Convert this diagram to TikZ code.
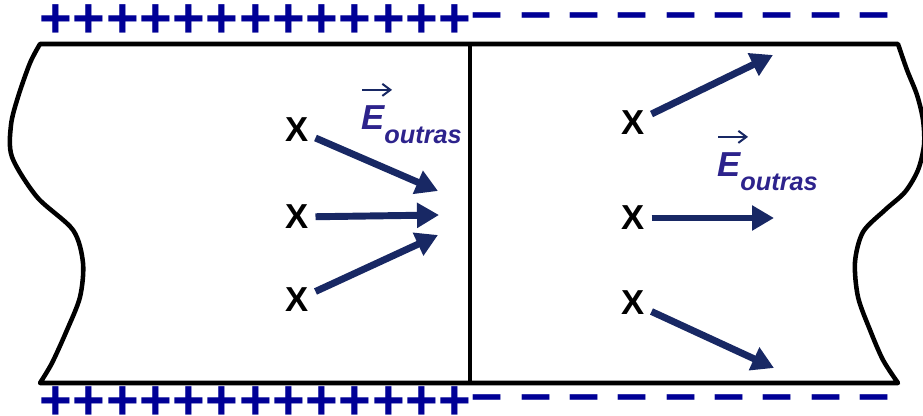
\documentclass[tikz,border=0pt]{standalone}
\usepackage{fontspec}
\setmainfont{Liberation Sans}
\usetikzlibrary{calc,arrows.meta,positioning}
\definecolor{fieldblue}{RGB}{24,40,100}
\definecolor{chargeblue}{RGB}{0,0,150}
\definecolor{labelblue}{RGB}{45,35,140}
\tikzset{
  wall/.style={line width=3.4pt, line join=round},
  field/.style={fieldblue, line width=5.2pt, -{Triangle[length=16.5pt,width=18pt]}},
  vecarrow/.style={fieldblue, line width=1.5pt, -{Straight Barb[length=6pt,width=9pt]}},
  xlabel/.style={inner sep=5pt, font=\bfseries\fontsize{26}{26}\selectfont},
  elabel/.style={inner sep=0pt, labelblue, font=\bfseries\itshape\fontsize{26}{26}\selectfont},
  poscharge/.style={inner sep=0pt, chargeblue, font=\bfseries\fontsize{42}{42}\selectfont},
  negcharge/.style={inner sep=0pt, chargeblue, font=\bfseries\fontsize{42}{42}\selectfont}
}

\begin{document}
\begin{tikzpicture}[x=0.75pt,y=-0.75pt]
	\useasboundingbox (0,0) rectangle (923,416);

	%% (A1)...(A4) are the corners of the conductor
	\coordinate (A1) at (40,44);  % top left
	\coordinate (A2) at (898,44); % top right
	\coordinate (A3) at (898,383); % bottom right
	\coordinate (A4) at (40,383); % bottom left
	\coordinate (M1) at (470,44);  % top of middle line
	\coordinate (M2) at (470,383); % bottom of middle line

	%% Outline
	\draw[wall] (A4) -- plot[smooth] coordinates {(40,383) (52,363) (67,330) (80,297)
	  (83,263) (73,230) (37,197) (12,157) (11,125) (18,97) (30,63) (40,44)}
	  -- (A2) -- plot[smooth] coordinates {(898,44) (907,70) (917,95) (923,120)
	  (924,145) (918,170) (905,192) (885,210) (863,232) (855,262) (858,297)
	  (870,330) (883,360) (898,383)} -- cycle;
	\draw[wall] (M1) -- (M2);

	%% Charges
	\foreach \i in {0,...,12} {
	  \node[poscharge] (P\i) at ({56+33.25*\i},21) {+};
	  \node[poscharge] (Q\i) at ({56+33.25*\i},403) {+};
	}
	\foreach \i in {0,...,8} {
	  \node[negcharge] (N\i) at ({487.5+48.3*\i},22) {\textendash};
	  \node[negcharge] (O\i) at ({487.5+48.3*\i},404) {\textendash};
	}

	%% Left half
	\node[xlabel] (XL1) at (297,130) {X};
	\node[xlabel] (XL2) at (297,217) {X};
	\node[xlabel] (XL3) at (297,300) {X};
	\coordinate (TL1) at (438,191);
	\coordinate (TL2) at (439,215);
	\coordinate (TL3) at (438,235);
	\draw[field] (XL1) -- (TL1);
	\draw[field] (XL2) -- (TL2);
	\draw[field] (XL3) -- (TL3);
	\node[elabel, anchor=base west] (EL) at (361,130)
	  {E\raisebox{-10pt}{\fontsize{19}{19}\selectfont outras}};
	\draw[vecarrow] ([shift={(1,-16)}]EL.north west) -- ++(30,0);

	%% Right half
	\node[xlabel] (XR1) at (633,123) {X};
	\node[xlabel] (XR2) at (633,218) {X};
	\node[xlabel] (XR3) at (633,303) {X};
	\coordinate (TR1) at (773,55);
	\coordinate (TR2) at (774,218);
	\coordinate (TR3) at (774,368);
	\draw[field] (XR1) -- (TR1);
	\draw[field] (XR2) -- (TR2);
	\draw[field] (XR3) -- (TR3);
	\node[elabel, anchor=base west] (ER) at (717,177)
	  {E\raisebox{-10pt}{\fontsize{19}{19}\selectfont outras}};
	\draw[vecarrow] ([shift={(1,-16)}]ER.north west) -- ++(30,0);
\end{tikzpicture}
\end{document}
